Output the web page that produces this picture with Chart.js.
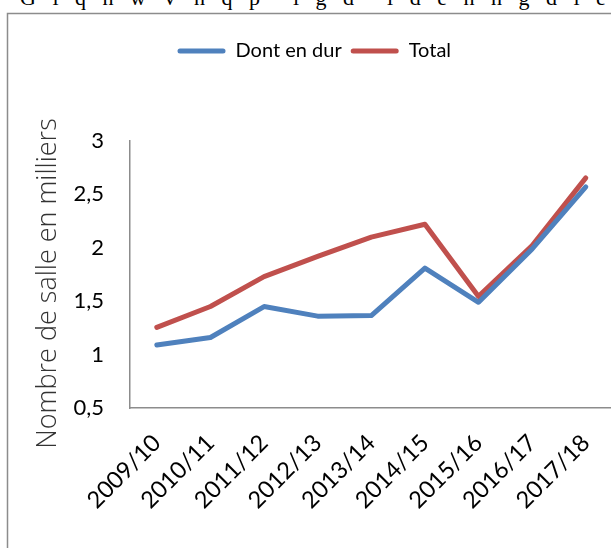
<!DOCTYPE html>
<html>
<head>
<meta charset="utf-8">
<script src="https://cdn.jsdelivr.net/npm/chart.js@4"></script>
<style>
  html, body { margin: 0; padding: 0; background: #fff; overflow: hidden; width: 611px; height: 548px; }
  #top { position: absolute; left: 20px; top: -15px; font-family: "Liberation Serif", serif; font-size: 22px; color: #000; white-space: pre; letter-spacing: 0px; }
  #wrap { position: absolute; left: 0; top: 0; width: 630px; height: 548px; }
</style>
</head>
<body>
<div id="top">G   i   q   h   w   V   h   q   p      i   g   d      i   d   e   h   h   g   d   i   e</div>
<div id="wrap"><canvas id="c"></canvas></div>
<script>
const categories = ["2009/10","2010/11","2011/12","2012/13","2013/14","2014/15","2015/16","2016/17","2017/18"];
const dontEnDur = [1.09, 1.16, 1.45, 1.36, 1.365, 1.81, 1.49, 1.99, 2.57];
const total = [1.255, 1.45, 1.73, 1.92, 2.10, 2.22, 1.545, 2.02, 2.655];
const yTicks = [0.5, 1, 1.5, 2, 2.5, 3];
const seriesNames = ["Dont en dur", "Total"];
const colors = ["#4F81BD", "#C0504D"];

const frame = {
  id: 'frame',
  beforeDraw(chart) {
    const ctx = chart.ctx;
    ctx.save();
    ctx.strokeStyle = '#8c8c8c';
    ctx.lineWidth = 1.5;
    ctx.beginPath();
    ctx.moveTo(7.5, 700);
    ctx.lineTo(7.5, 13.5);
    ctx.lineTo(700, 13.5);
    ctx.stroke();
    ctx.restore();
  }
};
const legendMargin = {
  id: 'legendMargin',
  beforeInit(chart) {
    const orig = chart.legend.fit;
    chart.legend.fit = function () {
      orig.bind(chart.legend)();
      this.height += 70;
    };
  },
  afterLayout(chart) {
    chart.legend.left += 8;
    chart.legend.right += 8;
  }
};

new Chart(document.getElementById('c'), {
  type: 'line',
  data: {
    labels: categories,
    datasets: [
      { label: seriesNames[0], data: dontEnDur, borderColor: colors[0], backgroundColor: colors[0] },
      { label: seriesNames[1], data: total, borderColor: colors[1], backgroundColor: colors[1] }
    ]
  },
  options: {
    responsive: true,
    maintainAspectRatio: false,
    animation: false,
    devicePixelRatio: 1,
    layout: { padding: { top: 32, left: 0, right: 17.4, bottom: 0 } },
    elements: {
      line: { borderWidth: 5, tension: 0, borderCapStyle: 'round', borderJoinStyle: 'round' },
      point: { radius: 0, hoverRadius: 0 }
    },
    plugins: {
      legend: {
        position: 'top',
        labels: {
          font: { family: 'Lato', size: 20 },
          color: '#000',
          boxWidth: 48,
          boxHeight: 5,
          padding: 9,
          generateLabels(chart) {
            return chart.data.datasets.map((ds, i) => ({
              text: ds.label,
              fillStyle: ds.borderColor,
              strokeStyle: ds.borderColor,
              lineWidth: 0,
              borderRadius: 2.5,
              fontColor: '#000',
              datasetIndex: i
            }));
          }
        }
      },
      tooltip: { enabled: false }
    },
    scales: {
      x: {
        offset: true,
        grid: { display: false, drawTicks: false },
        border: { display: true, color: '#8c8c8c', width: 1.5 },
        ticks: {
          font: { family: 'Lato', size: 23.5 },
          color: '#000',
          minRotation: 45,
          maxRotation: 45,
          padding: 21,
          autoSkip: false
        },
        afterFit(scale) { scale.height = 140; }
      },
      y: {
        min: 0.5,
        max: 3,
        afterBuildTicks(scale) { scale.ticks = yTicks.map(v => ({ value: v })); },
        grid: { display: false, drawTicks: false },
        border: { display: true, color: '#8c8c8c', width: 1.5 },
        ticks: {
          font: { family: 'Lato', size: 22 },
          color: '#000',
          padding: 26,
          callback: (v) => String(v).replace('.', ',')
        },
        title: {
          display: true,
          text: 'Nombre de salle en milliers\u2002\u2009',
          font: { family: 'Open Sans', size: 27, weight: '300' },
          color: '#333',
          padding: { top: 32.5, bottom: 0 }
        },
        afterFit(scale) { scale.width = 130; }
      }
    }
  },
  plugins: [frame, legendMargin]
});
</script>
</body>
</html>
